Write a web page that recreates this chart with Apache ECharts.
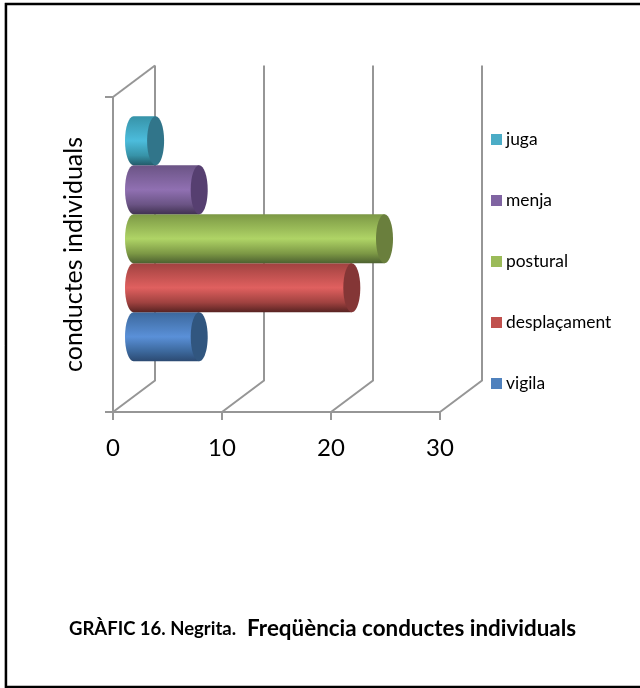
<!DOCTYPE html>
<html><head><meta charset="utf-8">
<style>html,body{margin:0;padding:0;background:#fff}#c{width:640px;height:688px}</style>
<script src="https://cdn.jsdelivr.net/npm/echarts@6/dist/echarts.min.js"></script>
</head><body><div id="c"></div>
<script>
const categories = ['conductes'];
const seriesNames = ['vigila','desplaçament','postural','menja','juga'];
const vigila = [6];
const desplacament = [20];
const postural = [23];
const menja = [6];
const juga = [2];
const xTicks = [0,10,20,30];
const seriesValues = [vigila,desplacament,postural,menja,juga];
const palette = [
 {base:'#4f81bd',top:'#3c689c',mid:'#5a90d8',bot:'#2c4a72',cap:'#31567f'},
 {base:'#c0504d',top:'#a04240',mid:'#e0605f',bot:'#582322',cap:'#843636'},
 {base:'#9bbb59',top:'#7c9845',mid:'#afd466',bot:'#4d6130',cap:'#6a7f3d'},
 {base:'#8064a2',top:'#6b5485',mid:'#9070b2',bot:'#413252',cap:'#563f70'},
 {base:'#4bacc6',top:'#3793a8',mid:'#4cbcdc',bot:'#235b6a',cap:'#31758a'}
];
const DX=42, DY=-31.5;
const gray='#969696';
function cyl(idx){
  return function(params,api){
    const p0=api.coord([0,0]), p1=api.coord([api.value(0),0]);
    const band=api.size([0,1])[1];
    const h=band*49/315, ry=h/2, rx=8.5;
    const cy=p0[1]+DY/2+(idx-2)*-h;
    const x0=p0[0]+DX/2-0.5, x1=p1[0]+DX/2-0.2;
    const c=palette[idx];
    const k=0.5523;
    const d=`M${x1} ${cy-ry}L${x0} ${cy-ry}C${x0-rx*k} ${cy-ry} ${x0-rx} ${cy-ry*k} ${x0-rx} ${cy}C${x0-rx} ${cy+ry*k} ${x0-rx*k} ${cy+ry} ${x0} ${cy+ry}L${x1} ${cy+ry}Z`;
    return {type:'group',children:[
      {type:'path',shape:{pathData:d},style:{fill:new echarts.graphic.LinearGradient(0,0,0,1,[
        {offset:0,color:c.top},{offset:.5,color:c.mid},{offset:.8,color:c.top},{offset:1,color:c.bot}])}},
      {type:'ellipse',shape:{cx:x1,cy:cy,rx:rx,ry:ry},style:{fill:c.cap}}
    ]};
  };
}
const wallData=xTicks.map(v=>[v]);
const series=[{
  type:'custom',silent:true,name:'_wall',z:1,data:wallData,encode:{x:0},
  renderItem(params,api){
    const v=api.value(0), c=api.coord([v,0]);
    const band=api.size([0,1])[1];
    const floor=c[1]+band/2, top=c[1]-band/2;
    const pts=[[c[0],floor],[c[0]+DX,floor+DY],[c[0]+DX,top+DY]];
    const kids=[{type:'polyline',shape:{points:pts},style:{stroke:gray,lineWidth:2,fill:null}}];
    if(v===0) kids.push({type:'line',shape:{x1:c[0],y1:top,x2:c[0]+DX,y2:top+DY},style:{stroke:gray,lineWidth:2}});
    return {type:'group',children:kids};
  }
}];
seriesNames.forEach((n,i)=>series.push({
  type:'custom',name:n,z:2+i,silent:true,
  itemStyle:{color:palette[i].base},
  data:seriesValues[i].map(v=>[v,0]),encode:{x:0,y:1},
  renderItem:cyl(i)
}));
const chart=echarts.init(document.getElementById('c'),null,{renderer:'canvas'});
chart.setOption({
  animation:false,
  backgroundColor:'#fff',
  textStyle:{fontFamily:'Lato'},
  grid:{left:113,top:97,width:327,height:315,containLabel:false},
  xAxis:{type:'value',min:0,max:30,interval:10,
    axisLine:{show:true,lineStyle:{color:gray,width:2}},
    axisTick:{show:true,length:8,lineStyle:{color:gray,width:2}},
    splitLine:{show:false},
    axisLabel:{color:'#000',fontSize:24,margin:24,fontFamily:'Lato'}},
  yAxis:{type:'category',data:categories,
    name:'conductes individuals',nameLocation:'middle',nameGap:27,nameRotate:90,
    nameTextStyle:{color:'#000',fontSize:25,fontFamily:'Lato'},
    axisLine:{show:true,onZero:false,lineStyle:{color:gray,width:2}},
    axisTick:{show:true,length:8,lineStyle:{color:gray,width:2}},
    axisLabel:{show:false},splitLine:{show:false}},
  legend:{orient:'vertical',left:491,top:131,padding:0,itemWidth:11,itemHeight:11,itemGap:44,icon:'rect',
    data:['juga','menja','postural','desplaçament','vigila'],selectedMode:false,
    textStyle:{color:'#000',fontSize:17.4,fontFamily:'Lato',padding:[0,0,0,-1]}},
  title:{left:69,top:618,padding:0,itemGap:0,
    text:'{a|GRÀFIC 16. Negrita.}{b|Freqüència conductes individuals}',
    textStyle:{rich:{a:{fontSize:18.5,fontWeight:'bold',fontFamily:'Lato',color:'#000'},b:{fontSize:22.4,fontWeight:'bold',fontFamily:'Lato',color:'#000',padding:[0,0,0,11]}}}},
  graphic:[
    {type:'polyline',silent:true,z:-1,shape:{points:[[640,4],[6,4],[6,687],[640,687]]},style:{fill:'none',stroke:'#000',lineWidth:2.4}},
    {type:'line',silent:true,z:-1,shape:{x1:4.5,y1:3,x2:4.5,y2:688},style:{stroke:'#aaa',lineWidth:1}}
  ],
  series
});
</script></body></html>
